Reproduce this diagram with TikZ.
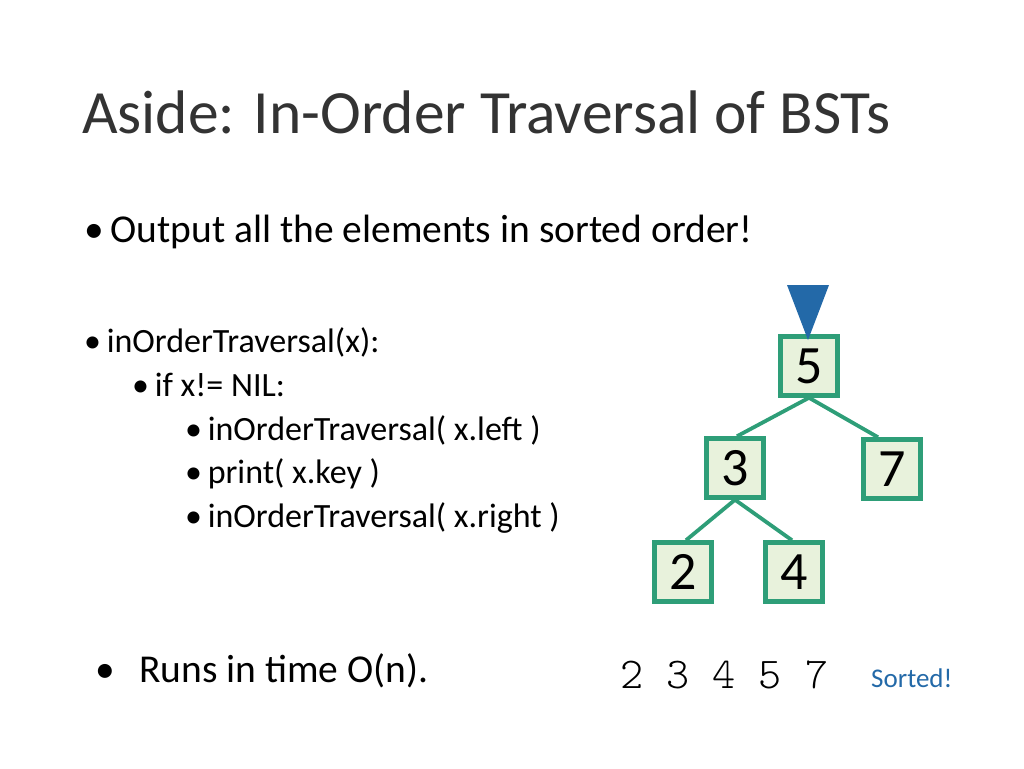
\documentclass[tikz,border=0pt]{standalone}
\usepackage{fontspec}
\setmainfont{Carlito}
\setmonofont{Latin Modern Mono Light}
\definecolor{tgreen}{HTML}{2E9E78}
\definecolor{tfill}{HTML}{E8F2DC}
\definecolor{tblue}{HTML}{2369A8}
\begin{document}
\begin{tikzpicture}[x=1pt,y=-1pt,
  bst/.style={draw=tgreen,line width=4.5pt,fill=tfill,minimum width=57pt,minimum height=59pt,inner sep=0pt,font=\fontsize{54}{54}\selectfont},
  edge/.style={draw=tgreen,line width=3.8pt},
  txt/.style={anchor=base west,inner sep=0pt}]
\useasboundingbox (0,0) rectangle (1024,768);
\node[txt,font=\fontsize{61.5}{62}\selectfont,text=black!80] (title) at (82,133) {Aside: In-Order Traversal of BSTs};
\node[txt,font=\fontsize{39.5}{40}\selectfont] (b1) at (84,242) {\textbullet\,Output all the elements in sorted order!};
\node[txt,font=\fontsize{34}{34}\selectfont] (c1) at (84,352) {\textbullet\,inOrderTraversal(x):};
\node[txt,font=\fontsize{34}{34}\selectfont] (c2) at (132,396) {\textbullet\,if x!= NIL:};
\node[txt,font=\fontsize{34}{34}\selectfont] (c3) at (185,440) {\textbullet\,inOrderTraversal( x.left )};
\node[txt,font=\fontsize{34}{34}\selectfont] (c4) at (185,483) {\textbullet\,print( x.key )};
\node[txt,font=\fontsize{34}{34}\selectfont] (c5) at (185,527) {\textbullet\,inOrderTraversal( x.right )};
\node[txt,font=\fontsize{39.5}{40}\selectfont] (r) at (95,682) {\textbullet\ \ \,Runs in time O(n).};
\node[txt,font=\ttfamily\fontsize{44}{44}\selectfont] (seq) at (620,688) {2 3 4 5 7};
\node[txt,font=\fontsize{27}{27}\selectfont,text=tblue] (s) at (871,687) {Sorted!};
\node[bst] (n5) at (809,366) {5};
\node[bst] (n3) at (735,468) {3};
\node[bst] (n7) at (892,469) {7};
\node[bst] (n2) at (683,572) {2};
\node[bst] (n4) at (794,572) {4};
\draw[edge] (n5.south) -- ([xshift=2pt]n3.north);
\draw[edge] (n5.south) -- ([xshift=-14pt]n7.north);
\draw[edge] (n3.south) -- ([xshift=3pt]n2.north);
\draw[edge] (n3.south) -- ([xshift=-2pt]n4.north);
\coordinate (tri) at (808,340);
\fill[tblue] (787,285) -- (829,285) -- (tri) -- cycle;
\end{tikzpicture}
\end{document}
